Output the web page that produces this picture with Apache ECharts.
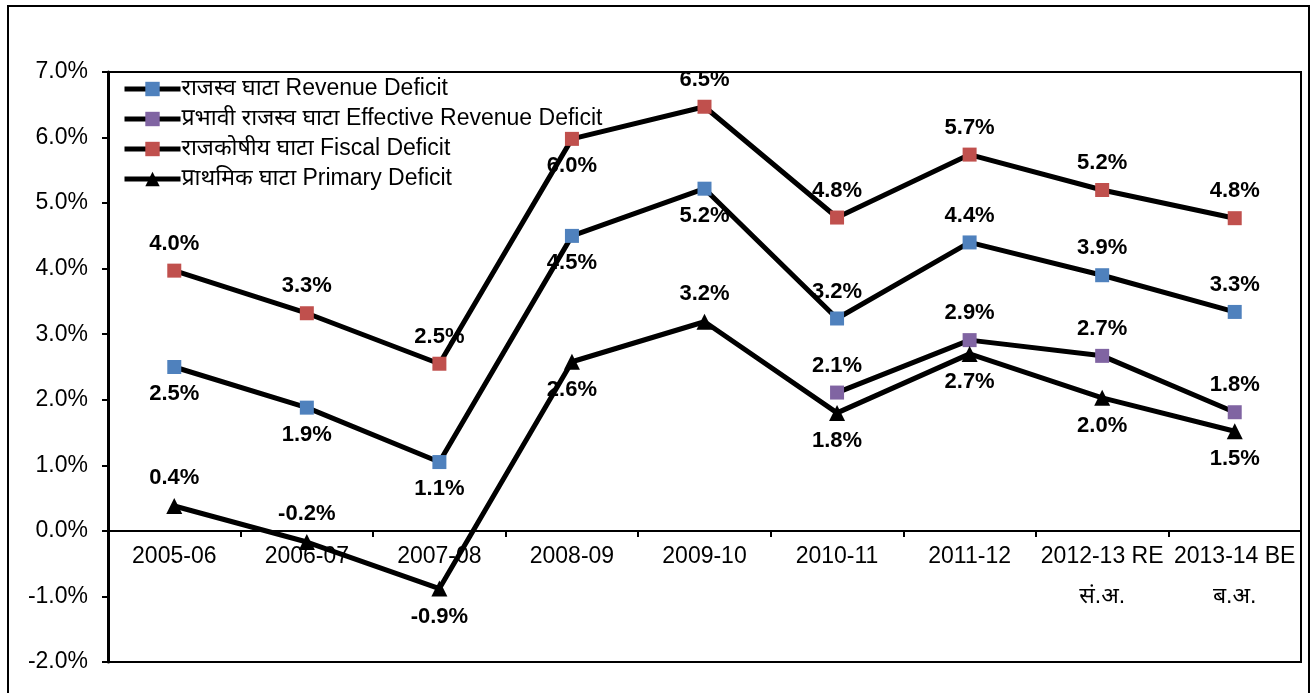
<!DOCTYPE html>
<html><head><meta charset="utf-8">
<script src="https://cdn.jsdelivr.net/npm/echarts@6/dist/echarts.min.js"></script>
<style>html,body{margin:0;padding:0;background:#fff}#c{width:1311px;height:693px}</style>
</head><body><div id="c"></div>
<script>
const categories = ['2005-06','2006-07','2007-08','2008-09','2009-10','2010-11','2011-12','2012-13 RE\nसं.अ.','2013-14 BE\nब.अ.'];
const seriesNames = ['राजस्व घाटा Revenue Deficit','प्रभावी राजस्व घाटा Effective Revenue Deficit','राजकोषीय घाटा Fiscal Deficit','प्राथमिक घाटा Primary Deficit'];
const revenueDeficit = [2.5, 1.88, 1.05, 4.5, 5.22, 3.24, 4.4, 3.9, 3.34];
const effectiveRevenueDeficit = [null, null, null, null, null, 2.11, 2.91, 2.67, 1.81];
const fiscalDeficit = [3.97, 3.32, 2.55, 5.98, 6.47, 4.78, 5.74, 5.2, 4.77];
const primaryDeficit = [0.38, -0.17, -0.88, 2.58, 3.19, 1.8, 2.7, 2.03, 1.52];
const yTicks = [-2, -1, 0, 1, 2, 3, 4, 5, 6, 7];

// label placements (style, kept separate from values)
const revPos = ['bottom','bottom','bottom','bottom','bottom','top','top','top','top'];
const effPos = ['top','top','top','top','top','top','top','top','top'];
const fisPos = ['top','top','top','bottom','top','top','top','top','top'];
const priPos = ['top','top','bottom','bottom','top','bottom','bottom','bottom','bottom'];

const FONT = 'Arial, "Liberation Sans", "Noto Sans", sans-serif';
const colors = ['#4F81BD','#8064A2','#C0504D','#000000'];

function mk(vals, pos){
  return vals.map((v,i)=> v===null ? null : {value:v, label:{position:pos[i]}});
}
function series(name, vals, pos, color, symbol){
  return {
    name, type:'line', data: mk(vals,pos), symbol, symbolSize: symbol==='triangle'?16:14,
    lineStyle:{color:'#000', width:5},
    itemStyle:{color: color, borderWidth:0},
    label:{show:true, distance:9, fontFamily:FONT, fontSize:22, fontWeight:'bold', color:'#000',
      formatter: p => p.value.toFixed(1)+'%'},
    connectNulls:false, animation:false, z: 3
  };
}

const chart = echarts.init(document.getElementById('c'));
chart.setOption({
  animation:false,
  backgroundColor:'#fff',
  grid:{left:108, right:10, top:72, bottom:31, show:true, borderColor:'#000', borderWidth:2, outerBoundsMode:'none', containLabel:false},
  graphic:[{type:'rect', shape:{x:8,y:6,width:1301,height:720}, style:{fill:'none', stroke:'#000', lineWidth:2}, silent:true, z:-1}],
  legend:{
    orient:'vertical', left:117, top:72, itemWidth:56, itemHeight:18, itemGap:6,
    data: seriesNames,
    lineStyle:{width:5, color:'#000'},
    textStyle:{fontFamily:FONT, fontSize:23, color:'#000', lineHeight:24, padding:[0,0,0,-4]},
  },
  xAxis:{
    type:'category', data:categories, boundaryGap:true,
    axisLine:{onZero:true, lineStyle:{color:'#000', width:2}},
    axisTick:{show:true, inside:false, length:6, lineStyle:{color:'#000', width:2}},
    axisLabel:{fontFamily:FONT, fontSize:23, color:'#000', margin:-125, lineHeight:40, interval:0},
    splitLine:{show:false}
  },
  yAxis:{
    type:'value', min:yTicks[0], max:yTicks[yTicks.length-1], interval:1,
    axisLine:{show:true, lineStyle:{color:'#000', width:3}},
    axisTick:{show:true, length:6, lineStyle:{color:'#000', width:2}},
    axisLabel:{fontFamily:FONT, fontSize:23, color:'#000', margin:20, formatter: v => v.toFixed(1)+'%'},
    splitLine:{show:false}
  },
  series:[
    series(seriesNames[0], revenueDeficit, revPos, colors[0], 'rect'),
    series(seriesNames[1], effectiveRevenueDeficit, effPos, colors[1], 'rect'),
    series(seriesNames[2], fiscalDeficit, fisPos, colors[2], 'rect'),
    series(seriesNames[3], primaryDeficit, priPos, colors[3], 'triangle')
  ]
});
</script></body></html>
